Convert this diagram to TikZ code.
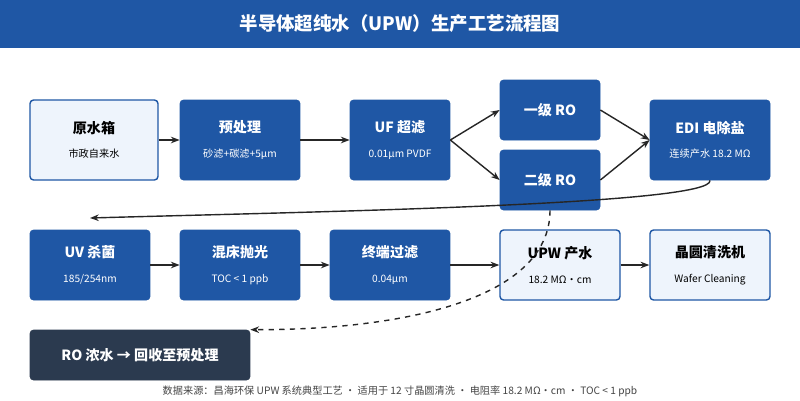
\documentclass[tikz,border=0pt]{standalone}
\usepackage{fontspec}
\setmainfont{Noto Sans CJK SC}
\usetikzlibrary{arrows.meta, positioning}
\definecolor{mainblue}{HTML}{1F57A5}
\definecolor{lightfill}{HTML}{EEF4FC}
\definecolor{darkbox}{HTML}{2B3A4F}
\definecolor{footgray}{HTML}{444444}
\begin{document}
\begin{tikzpicture}[x=0.02cm, y=-0.02cm,
    box/.style={draw=mainblue, fill=mainblue, text=white, rounded corners=2pt, align=center, minimum height=1.6cm, inner sep=1pt},
    lightbox/.style={box, fill=lightfill, text=black, line width=0.8pt},
    arrow/.style={-{Stealth[length=5pt]}, thick, black!85}
]
    \useasboundingbox (0,0) rectangle (800,400);
    % Title
    \fill[mainblue] (0,0) rectangle (800,48);
    \node[text=white, font=\fontsize{10.5}{12}\selectfont\bfseries] (title) at (400,24) {半导体超纯水（UPW）生产工艺流程图};

    % Row 1
    \node[lightbox, minimum width=2.56cm] (tank) at (94,140) {{\fontsize{8}{9}\selectfont\bfseries 原水箱}\\[2pt]{\fontsize{5.8}{7}\selectfont 市政自来水}};
    \node[box, minimum width=2.4cm] (pre) at (240,140) {{\fontsize{8}{9}\selectfont\bfseries 预处理}\\[2pt]{\fontsize{5.8}{7}\selectfont 砂滤+碳滤+5μm}};
    \node[box, minimum width=2cm] (uf) at (400,140) {{\fontsize{8}{9}\selectfont\bfseries UF 超滤}\\[2pt]{\fontsize{5.8}{7}\selectfont 0.01μm PVDF}};
    \node[box, minimum width=2cm, minimum height=1.2cm] (roa) at (550,110) {{\fontsize{8}{9}\selectfont\bfseries 一级 RO}};
    \node[box, minimum width=2cm, minimum height=1.2cm] (rob) at (550,180) {{\fontsize{8}{9}\selectfont\bfseries 二级 RO}};
    \node[box, minimum width=2.4cm] (edi) at (710,140) {{\fontsize{8}{9}\selectfont\bfseries EDI 电除盐}\\[2pt]{\fontsize{5.8}{7}\selectfont 连续产水 18.2 MΩ}};

    % Row 2
    \node[box, minimum width=2.4cm, minimum height=1.4cm] (uv) at (90,265) {{\fontsize{8}{9}\selectfont\bfseries UV 杀菌}\\[2pt]{\fontsize{5.8}{7}\selectfont 185/254nm}};
    \node[box, minimum width=2.4cm, minimum height=1.4cm] (mix) at (240,265) {{\fontsize{8}{9}\selectfont\bfseries 混床抛光}\\[2pt]{\fontsize{5.8}{7}\selectfont TOC < 1 ppb}};
    \node[box, minimum width=2.4cm, minimum height=1.4cm] (final) at (390,265) {{\fontsize{8}{9}\selectfont\bfseries 终端过滤}\\[2pt]{\fontsize{5.8}{7}\selectfont 0.04μm}};
    \node[lightbox, minimum width=2.4cm, minimum height=1.4cm] (upw) at (560,265) {{\fontsize{8}{9}\selectfont\bfseries UPW 产水}\\[2pt]{\fontsize{5.8}{7}\selectfont 18.2 MΩ・cm}};
    \node[lightbox, minimum width=2.4cm, minimum height=1.4cm] (wafer) at (710,265) {{\fontsize{8}{9}\selectfont\bfseries 晶圆清洗机}\\[2pt]{\fontsize{5.8}{7}\selectfont Wafer Cleaning}};

    % Row 3
    \node[box, draw=darkbox, fill=darkbox, minimum width=4.4cm, minimum height=1cm] (reject) at (140,355) {{\fontsize{8}{9}\selectfont\bfseries RO 浓水 → 回收至预处理}};

    \coordinate (uvin) at (90,218);

    % Arrows
    \draw[arrow] (tank) -- (pre);
    \draw[arrow] (pre) -- (uf);
    \draw[arrow] (uf.east) -- (roa.west);
    \draw[arrow] (uf.east) -- (rob.west);
    \draw[arrow] (roa.east) -- (edi.west);
    \draw[arrow] (rob.east) -- (edi.west);
    \draw[arrow] (edi.south) .. controls (715,205) and (300,212) .. (uvin);
    \draw[arrow] (uv) -- (mix);
    \draw[arrow] (mix) -- (final);
    \draw[arrow] (final) -- (upw);
    \draw[arrow] (upw) -- (wafer);
    \draw[arrow, dashed] (rob.south) .. controls (550,300) and (400,330) .. (reject.north east);

    % Footer
    \node[text=footgray, font=\fontsize{5.8}{7}\selectfont] (note) at (400,391) {数据来源：昌海环保 UPW 系统典型工艺 ・ 适用于 12 寸晶圆清洗 ・ 电阻率 18.2 MΩ・cm ・ TOC < 1 ppb};
\end{tikzpicture}
\end{document}
